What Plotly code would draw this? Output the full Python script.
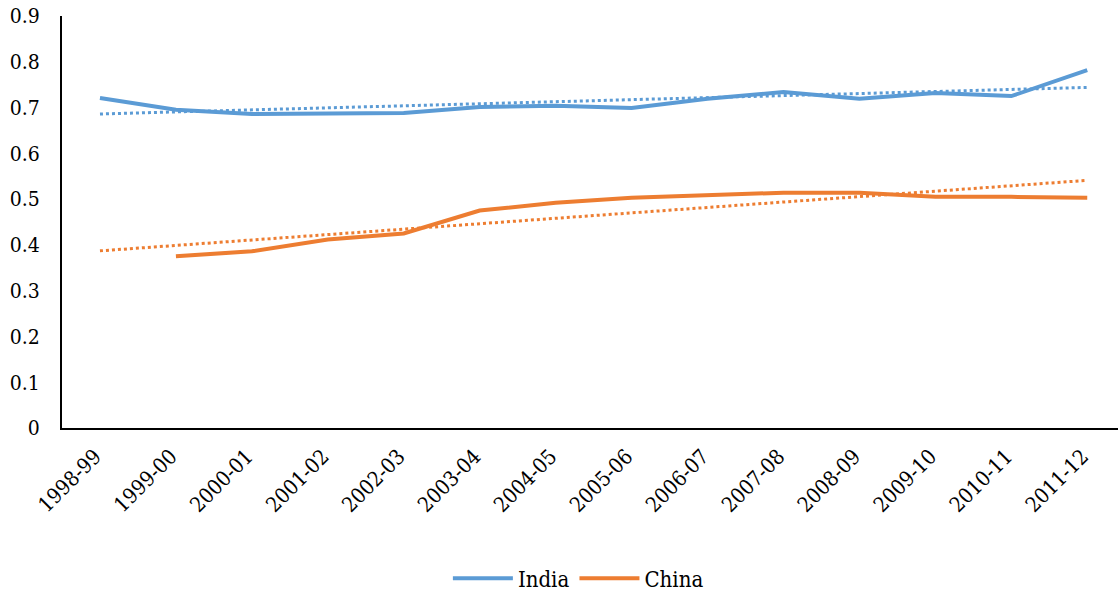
import plotly.graph_objects as go

years = ["1998-99", "1999-00", "2000-01", "2001-02", "2002-03", "2003-04", "2004-05",
         "2005-06", "2006-07", "2007-08", "2008-09", "2009-10", "2010-11", "2011-12"]
india = [0.721, 0.695, 0.686, 0.686, 0.688, 0.701, 0.704, 0.699, 0.719, 0.734, 0.719, 0.732, 0.725, 0.782]
china = [None, 0.375, 0.386, 0.412, 0.425, 0.475, 0.492, 0.503, 0.508, 0.514, 0.514, 0.505, 0.505, 0.503]
# linear trendline endpoints (first and last category)
india_trend = [0.686, 0.744]
china_trend = [0.387, 0.541]
trend_x = [years[0], years[-1]]
y_ticks = [0, 0.1, 0.2, 0.3, 0.4, 0.5, 0.6, 0.7, 0.8, 0.9]
y_labels = ["0", "0.1", "0.2", "0.3", "0.4", "0.5", "0.6", "0.7", "0.8", "0.9"]

BLUE = "#5B9BD5"
ORANGE = "#ED7D31"
FONT = "DejaVu Serif Condensed"

fig = go.Figure()
fig.add_trace(go.Scatter(x=years, y=india, name="India", mode="lines",
                         line=dict(color=BLUE, width=4)))
fig.add_trace(go.Scatter(x=years, y=china, name="China", mode="lines",
                         line=dict(color=ORANGE, width=4)))
fig.add_trace(go.Scatter(x=trend_x, y=india_trend, mode="lines", showlegend=False,
                         line=dict(color=BLUE, width=3, dash="dot")))
fig.add_trace(go.Scatter(x=trend_x, y=china_trend, mode="lines", showlegend=False,
                         line=dict(color=ORANGE, width=3, dash="dot")))

fig.update_layout(
    width=1118, height=592,
    margin=dict(l=62, r=0, t=16, b=164, autoexpand=False),
    paper_bgcolor="white", plot_bgcolor="white",
    font=dict(family=FONT, size=20, color="black"),
    showlegend=True,
    legend=dict(orientation="h", x=0.489, xanchor="center", y=-0.365, yanchor="middle",
                font=dict(family=FONT, size=22, color="black"), itemwidth=60,
                traceorder="normal"),
)
fig.update_xaxes(type="category", range=[-0.5, 13.405], showline=True, linecolor="black",
                 linewidth=2, showgrid=False, ticks="", tickangle=-45, automargin=False,
                 tickfont=dict(family=FONT, size=21), zeroline=False,
                 ticklabelstandoff=6, ticklabelshift=-5)
fig.update_yaxes(range=[0, 0.9], tickvals=y_ticks, ticktext=y_labels, showline=True,
                 linecolor="black", automargin=False,
                 linewidth=2, showgrid=False, ticks="", zeroline=False,
                 tickfont=dict(family=FONT, size=21), ticklabelstandoff=16)

fig.write_html("out.html")
